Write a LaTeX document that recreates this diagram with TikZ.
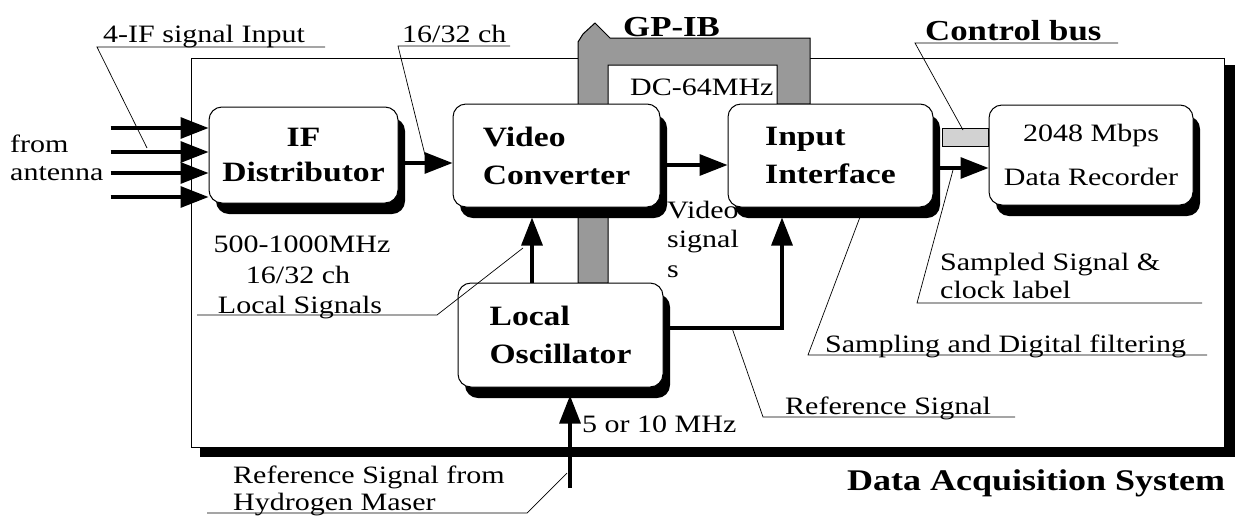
\documentclass[tikz,border=0pt]{standalone}
\usepackage{fontspec}
\setmainfont[FakeStretch=1.2]{Liberation Serif}
\usetikzlibrary{arrows.meta,shadows}
\newcommand\boxfont{\fontsize{28}{38}\selectfont\bfseries}
\newcommand\recfont{\fontsize{25}{44}\selectfont}
\newcommand\lblfont{\fontsize{25}{30}\selectfont}
\newcommand\headfont{\fontsize{29}{34}\selectfont\bfseries}
\tikzset{
	block/.style={draw, line width=1pt, fill=white, rounded corners=13pt, inner sep=0pt,
		align=left, font=\boxfont,
		drop shadow={shadow xshift=7pt, shadow yshift=-11pt, fill=black, opacity=1}},
	sig/.style={line width=3.2pt, -{Triangle[length=28pt,width=21pt]}},
	lead/.style={line width=0.7pt},
	lbl/.style={anchor=base west, inner sep=0pt, font=\lblfont},
}
\begin{document}
\begin{tikzpicture}[x=1pt,y=-1pt]
			\useasboundingbox (0,0) rectangle (1236,520);
			% system frame with its shadow
			\fill (200,65) rectangle (1235,457);
			\draw [fill=white, line width=1pt] (191,58) rectangle (1224,447);
			% GP-IB bus and control bus
			\draw [line width=1pt, fill=gray!80] (578,283) -- (578,42) -- (583,34) -- (595,23) -- (607,35) -- (610,38) --
				(810,38) -- (810,104) -- (777,104) -- (777,65) -- (608,65) -- (608,283) -- cycle;
			\draw [line width=1pt, fill=gray!35] (942,128) rectangle (988,146);

			\node [block, minimum width=189pt, minimum height=96pt, align=center] (ifd) at (303.5,155) {IF\\[-3pt]Distributor};
			\node [block, minimum width=207pt, minimum height=103pt] (vc) at (556.5,155.5) {Video\\Converter};
			\node [block, minimum width=205pt, minimum height=103pt] (ii) at (830.5,155.5) {Input\\Interface};
			\node [block, minimum width=204pt, minimum height=100pt, align=center, font=\recfont] (dr) at (1091,155) {2048 Mbps\\Data Recorder};
			\node [block, minimum width=205pt, minimum height=104pt] (lo) at (560.5,335) {Local\\Oscillator};

			\foreach \dy/\n in {27/a, 3/b, -18/c, -42/d} {
				\coordinate (ant\n) at ([xshift=-98pt, yshift=\dy pt]ifd.west);
				\draw [sig] (ant\n) -- ([yshift=\dy pt]ifd.west);
			}
			\draw [sig] ([yshift=-8pt]ifd.east) -- ([yshift=-7.5pt]vc.west);
			\draw [sig] ([yshift=-9.5pt]vc.east) -- ([yshift=-9.5pt]ii.west);
			\draw [sig] ([yshift=-12.5pt]ii.east) -- ([yshift=-13pt]dr.west);
			\draw [sig, shorten >=10pt] ([xshift=-28.5pt]lo.north) -- ([xshift=-24.5pt]vc.south);
			\draw [sig, shorten >=10pt] ([yshift=7pt]lo.east) -| ([xshift=-48.5pt]ii.south);
			\coordinate (maser) at (570,488);
			\draw [sig, shorten >=8pt] (maser) -- (maser |- lo.south);

			% leader lines
			\coordinate (pif) at (147,148);
			\coordinate (pch) at (425,155);
			\coordinate (ploc) at (523,248);
			\coordinate (pref) at (732,328);
			\coordinate (psdf) at (860,217);
			\coordinate (psmp) at (953,170);
			\coordinate (pbus) at (963,130);
			\coordinate (pmas) at (567,473);
			\draw [lead] (pif) -- (97,47) -- (325,47);
			\draw [lead] (pch) -- (398,46) -- (510,46);
			\draw [lead] (ploc) -- (437,315) -- (197,315);
			\draw [lead] (pref) -- (763,417) -- (1015,417);
			\draw [lead] (psdf) -- (808,355) -- (1207,355);
			\draw [lead] (psmp) -- (917,303) -- (1202,303);
			\draw [lead] (pbus) -- (915,43) -- (1118,43);
			\draw [lead] (pmas) -- (527,513) -- (207,513);

			\node [lbl] (from) at (10,152) {from};
			\node [lbl] (antenna) at (10,180) {antenna};
			\node [lbl] (ifsig) at (103,42) {4-IF signal Input};
			\node [lbl] (chtop) at (402,42) {16/32 ch};
			\node [lbl, font=\headfont] (gpib) at (623,36) {GP-IB};
			\node [lbl] (dc) at (630,95) {DC-64MHz};
			\node [lbl, font=\headfont] (cbus) at (925,40) {Control bus};
			\node [lbl, anchor=base] (mhz) at (302,252) {500-1000MHz};
			\node [lbl, anchor=base] (chlo) at (298,283) {16/32 ch};
			\node [lbl, anchor=base] (locsig) at (300,313) {Local Signals};
			\node [lbl] (vid1) at (667,218) {Video};
			\node [lbl] (vid2) at (667,247) {signal};
			\node [lbl] (vid3) at (667,277) {s};
			\node [lbl] (smp1) at (940,270) {Sampled Signal \&};
			\node [lbl] (smp2) at (940,298) {clock label};
			\node [lbl] (sdf) at (825,352) {Sampling and Digital filtering};
			\node [lbl] (refsig) at (785,414) {Reference Signal};
			\node [lbl] (fmhz) at (582,432) {5 or 10 MHz};
			\node [lbl] (hm1) at (233,483) {Reference Signal from};
			\node [lbl] (hm2) at (233,510) {Hydrogen Maser};
			\node [lbl, font=\fontsize{30}{34}\selectfont\bfseries] (das) at (847,490) {Data Acquisition System};
\end{tikzpicture}
\end{document}
